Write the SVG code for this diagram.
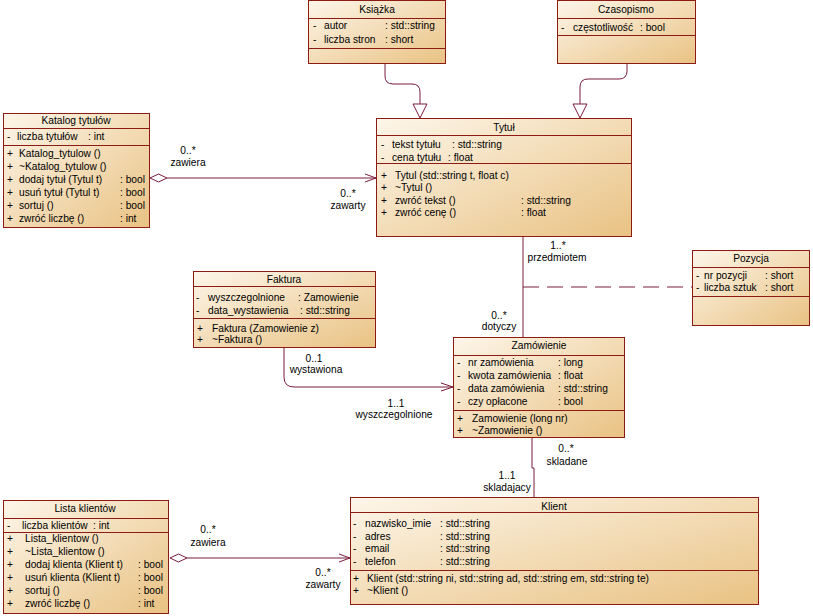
<svg xmlns="http://www.w3.org/2000/svg" width="813" height="616" viewBox="0 0 813 616">
<defs>
<linearGradient id="g" x1="0" y1="0" x2="1" y2="1">
<stop offset="0" stop-color="#fdf6ea"/>
<stop offset="1" stop-color="#e9c283"/>
</linearGradient>
<style>
.box{fill:url(#g);stroke:#8c1c13;stroke-width:1}
.div{stroke:#8c1c13;stroke-width:1}
text{font-family:"Liberation Sans",Arial,sans-serif;font-size:10.2px;fill:#000}
.t{text-anchor:middle}
.c{fill:none;stroke:#7b1c3c;stroke-width:1}
.gen{fill:#fff;stroke:#7b1c3c;stroke-width:1}
</style>
</defs>
<rect width="813" height="616" fill="#fff"/>

<g id="connectors">
<path class="c" d="M385 63 V76 Q385 84 393 84 H412 Q420 84 420 92 V104"/>
<polygon class="gen" points="413,104 427,104 420,118"/>
<path class="c" d="M627 63 V71 Q627 79 619 79 H588 Q580 79 580 87 V104"/>
<polygon class="gen" points="573,104 587,104 580,118"/>
<polygon class="gen" points="150,178 158.5,174 167,178 158.5,182"/>
<path class="c" d="M167 178 H376 M365 174 L376 178 L365 182"/>
<text class="t" x="188" y="154">0..*</text>
<text class="t" x="188" y="166">zawiera</text>
<text class="t" x="348" y="197">0..*</text>
<text class="t" x="348" y="209">zawarty</text>
<path class="c" d="M523 237 V337"/>
<path class="c" d="M523 287 H692" stroke-dasharray="16 8"/>
<text class="t" x="558" y="249">1..*</text>
<text class="t" x="557" y="261">przedmiotem</text>
<text class="t" x="499" y="319">0..*</text>
<text class="t" x="499" y="330">dotyczy</text>
<path class="c" d="M284 348 V377 Q284 387 294 387 H453 M441 383 L453 387 L441 391"/>
<text class="t" x="314" y="362">0..1</text>
<text class="t" x="316" y="373">wystawiona</text>
<text class="t" x="396" y="407">1..1</text>
<text class="t" x="394" y="418">wyszczegolnione</text>
<path class="c" d="M532 438 V468 H534 V497"/>
<text class="t" x="566" y="452">0..*</text>
<text class="t" x="567" y="465">skladane</text>
<text class="t" x="507" y="479">1..1</text>
<text class="t" x="507" y="491">skladajacy</text>
<polygon class="gen" points="170,558 178.5,554 187,558 178.5,562"/>
<path class="c" d="M187 558 H350 M339 554 L350 558 L339 562"/>
<text class="t" x="208" y="533">0..*</text>
<text class="t" x="208" y="546">zawiera</text>
<text class="t" x="323" y="576">0..*</text>
<text class="t" x="323" y="588">zawarty</text>
</g>

<g id="ksiazka">
<rect class="box" x="308.5" y="0.5" width="137" height="63"/>
<path class="div" d="M308.5 18.5 H445.5 M308.5 48.5 H445.5"/>
<text class="t" x="377" y="13">Książka</text>
<text x="313" y="29">-</text><text x="324" y="29">autor</text><text x="385" y="29">: std::string</text>
<text x="313" y="43">-</text><text x="324" y="43">liczba stron</text><text x="385" y="43">: short</text>
</g>

<g id="czasopismo">
<rect class="box" x="557.5" y="0.5" width="138" height="63"/>
<path class="div" d="M557.5 18.5 H695.5 M557.5 35.5 H695.5"/>
<text class="t" x="626" y="13">Czasopismo</text>
<text x="561" y="31">-</text><text x="573" y="31">częstotliwość</text><text x="640" y="31">: bool</text>
</g>

<g id="katalog">
<rect class="box" x="3.5" y="113.5" width="146" height="114"/>
<path class="div" d="M3.5 128.5 H149.5 M3.5 145.5 H149.5"/>
<text class="t" x="76" y="124">Katalog tytułów</text>
<text x="7" y="140">-</text><text x="17" y="140">liczba tytułów</text><text x="88" y="140">: int</text>
<text x="7" y="157">+</text><text x="19" y="157">Katalog_tytulow ()</text>
<text x="7" y="170">+</text><text x="19" y="170">~Katalog_tytulow ()</text>
<text x="7" y="183">+</text><text x="19" y="183">dodaj tytuł (Tytul t)</text><text x="120" y="183">: bool</text>
<text x="7" y="196">+</text><text x="19" y="196">usuń tytuł (Tytul t)</text><text x="120" y="196">: bool</text>
<text x="7" y="209">+</text><text x="19" y="209">sortuj ()</text><text x="120" y="209">: bool</text>
<text x="7" y="222">+</text><text x="19" y="222">zwróć liczbę ()</text><text x="120" y="222">: int</text>
</g>

<g id="tytul">
<rect class="box" x="376.5" y="118.5" width="255" height="118"/>
<path class="div" d="M376.5 135.5 H631.5 M376.5 163.5 H631.5"/>
<text class="t" x="504" y="131">Tytuł</text>
<text x="381" y="148">-</text><text x="392" y="148">tekst tytułu</text><text x="452" y="148">: std::string</text>
<text x="381" y="161">-</text><text x="392" y="161">cena tytułu</text><text x="448" y="161">: float</text>
<text x="381" y="179">+</text><text x="395" y="179">Tytul (std::string t, float c)</text>
<text x="381" y="191">+</text><text x="395" y="191">~Tytul ()</text>
<text x="381" y="204">+</text><text x="395" y="204">zwróć tekst ()</text><text x="521" y="204">: std::string</text>
<text x="381" y="216">+</text><text x="395" y="216">zwróć cenę ()</text><text x="521" y="216">: float</text>
</g>

<g id="pozycja">
<rect class="box" x="692.5" y="250.5" width="117" height="75"/>
<path class="div" d="M692.5 267.5 H809.5 M692.5 296.5 H809.5"/>
<text class="t" x="751" y="262">Pozycja</text>
<text x="696" y="279">-</text><text x="704" y="279">nr pozycji</text><text x="765" y="279">: short</text>
<text x="696" y="291">-</text><text x="704" y="291">liczba sztuk</text><text x="765" y="291">: short</text>
</g>

<g id="faktura">
<rect class="box" x="193.5" y="271.5" width="182" height="76"/>
<path class="div" d="M193.5 286.5 H375.5 M193.5 318.5 H375.5"/>
<text class="t" x="284" y="283">Faktura</text>
<text x="196" y="301">-</text><text x="208" y="301">wyszczegolnione</text><text x="298" y="301">: Zamowienie</text>
<text x="196" y="314">-</text><text x="208" y="314">data_wystawienia</text><text x="300" y="314">: std::string</text>
<text x="197" y="332">+</text><text x="212" y="332">Faktura (Zamowienie z)</text>
<text x="197" y="343">+</text><text x="212" y="343">~Faktura ()</text>
</g>

<g id="zamowienie">
<rect class="box" x="453.5" y="337.5" width="171" height="100"/>
<path class="div" d="M453.5 355.5 H624.5 M453.5 410.5 H624.5"/>
<text class="t" x="539" y="349">Zamówienie</text>
<text x="457" y="366">-</text><text x="468" y="366">nr zamówienia</text><text x="558" y="366">: long</text>
<text x="457" y="379">-</text><text x="468" y="379">kwota zamówienia</text><text x="558" y="379">: float</text>
<text x="457" y="392">-</text><text x="468" y="392">data zamówienia</text><text x="558" y="392">: std::string</text>
<text x="457" y="405">-</text><text x="468" y="405">czy opłacone</text><text x="558" y="405">: bool</text>
<text x="457" y="422">+</text><text x="472" y="422">Zamowienie (long nr)</text>
<text x="457" y="434">+</text><text x="472" y="434">~Zamowienie ()</text>
</g>

<g id="klient">
<rect class="box" x="350.5" y="497.5" width="408" height="107"/>
<path class="div" d="M350.5 512.5 H758.5 M350.5 570.5 H758.5"/>
<text class="t" x="554" y="510">Klient</text>
<text x="353" y="527">-</text><text x="365" y="527">nazwisko_imie</text><text x="440" y="527">: std::string</text>
<text x="353" y="540">-</text><text x="365" y="540">adres</text><text x="440" y="540">: std::string</text>
<text x="353" y="552">-</text><text x="365" y="552">email</text><text x="440" y="552">: std::string</text>
<text x="353" y="565">-</text><text x="365" y="565">telefon</text><text x="440" y="565">: std::string</text>
<text x="353" y="582">+</text><text x="367" y="582">Klient (std::string ni, std::string ad, std::string em, std::string te)</text>
<text x="353" y="594">+</text><text x="367" y="594">~Klient ()</text>
</g>

<g id="lista">
<rect class="box" x="3.5" y="500.5" width="165" height="113"/>
<path class="div" d="M3.5 518.5 H168.5 M3.5 532.5 H168.5"/>
<text class="t" x="85" y="512">Lista klientów</text>
<text x="7" y="529">-</text><text x="22" y="529">liczba klientów</text><text x="93" y="529">: int</text>
<text x="7" y="542">+</text><text x="25" y="542">Lista_klientow ()</text>
<text x="7" y="555">+</text><text x="25" y="555">~Lista_klientow ()</text>
<text x="7" y="568">+</text><text x="25" y="568">dodaj klienta (Klient t)</text><text x="138" y="568">: bool</text>
<text x="7" y="581">+</text><text x="25" y="581">usuń klienta (Klient t)</text><text x="138" y="581">: bool</text>
<text x="7" y="594">+</text><text x="25" y="594">sortuj ()</text><text x="138" y="594">: bool</text>
<text x="7" y="607">+</text><text x="25" y="607">zwróć liczbę ()</text><text x="138" y="607">: int</text>
</g>
</svg>
